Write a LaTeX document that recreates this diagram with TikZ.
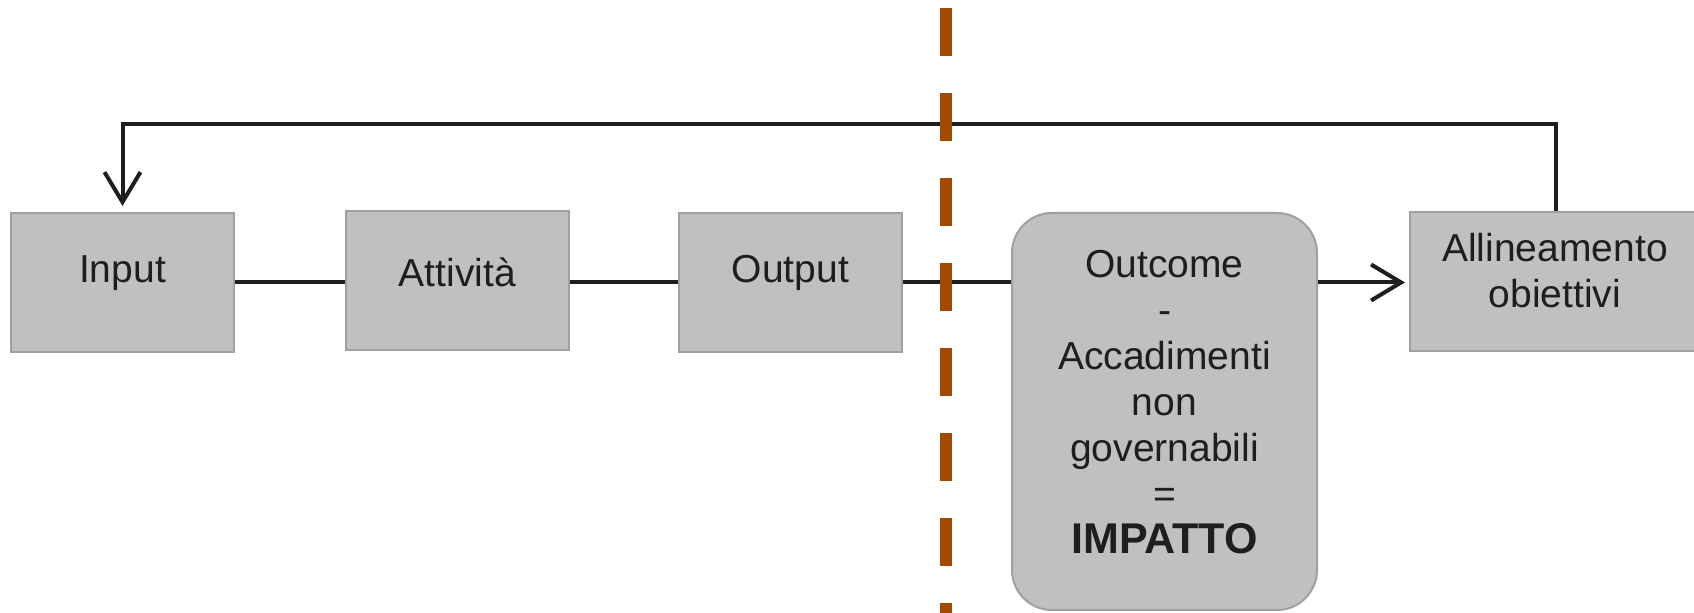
\documentclass[tikz,border=0pt]{standalone}
\usepackage{fontspec}
\setmainfont{Liberation Sans}
\usetikzlibrary{arrows.meta}
\definecolor{boxfill}{HTML}{C0C0C0}
\definecolor{boxline}{HTML}{A0A0A0}
\definecolor{divider}{HTML}{A34A00}
\definecolor{ink}{HTML}{1E1E1E}
\begin{document}
\begin{tikzpicture}[x=0.5pt,y=-0.5pt,
  stage/.style={draw=boxline, fill=boxfill, line width=1pt,
    minimum width=111.5pt, minimum height=69.5pt, inner sep=0pt},
  lbl/.style={text=ink, font=\fontsize{19.5}{23}\selectfont,
    align=center, inner sep=0pt},
  link/.style={draw=ink, line width=2pt},
  tip/.style={-{Straight Barb[length=15pt,width=18pt,line width=2pt]}}
]
\clip (0,0) rectangle (1694,613);

% process stages
\node[stage] (in)  at (122.5,282.5) {};
\node[stage] (att) at (457.5,281)   {};
\node[stage] (out) at (790.5,282.5) {};
\node[stage, rounded corners=20pt, minimum width=152.5pt, minimum height=198.5pt]
  (outc) at (1164.5,411.5) {};
\node[stage, minimum width=145pt] (alli) at (1555,281.5) {};

% stage labels
\node[lbl] (inT)   at (122.5,273) {Input};
\node[lbl] (attT)  at (457.5,272) {Attività};
\node[lbl] (outT)  at (790.5,273) {Output};
\node[lbl] (alliT) at (1555,271) {Allineamento\\obiettivi};
\node[lbl] (outcT) at (1164.5,402) {Outcome\\-\\Accadimenti\\non\\governabili\\=\\{\bfseries\fontsize{21.5}{23}\selectfont IMPATTO}};

% chain of stages
\draw[link] (in.east) -- (in.east -| att.west);
\draw[link] (in.east -| att.east) -- (in.east -| out.west);
\draw[link] (out.east) -- (out.east -| outc.west);
\draw[link, tip, shorten >=2pt] (out.east -| outc.east) -- (out.east -| alli.west);

% feedback loop
\coordinate (topR) at (1556,124);
\coordinate (topL) at (122.5,124);
\draw[link, tip, shorten >=3pt] (alli.north -| topR) -- (topR) -- (topL) -- (in.north);

% boundary between governable and non-governable results
\coordinate (divTop) at (946,8);
\coordinate (divBot) at (946,613);
\draw[divider, line width=6pt, dash pattern=on 24pt off 18.5pt] (divTop) -- (divBot);
\end{tikzpicture}
\end{document}
